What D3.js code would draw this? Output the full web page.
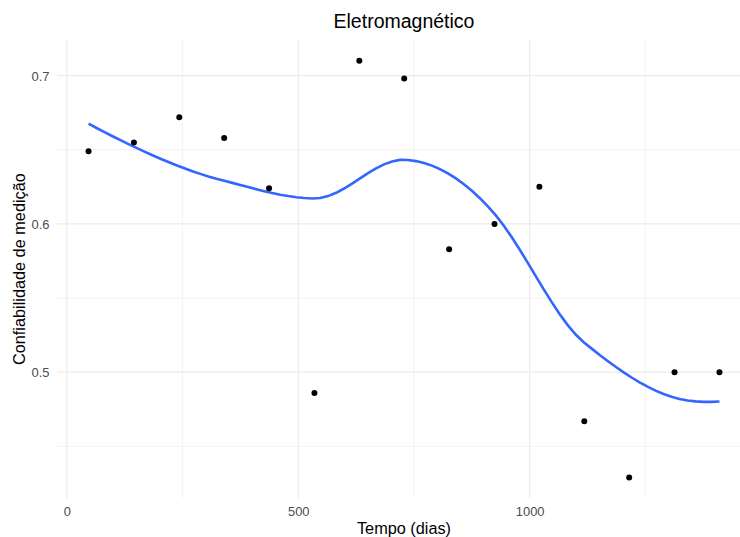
<!DOCTYPE html>
<html>
<head>
<meta charset="utf-8">
<script src="https://cdn.jsdelivr.net/npm/d3@7"></script>
<style>
  body { margin: 0; background: #fff; }
  text { font-family: "Liberation Sans", Arial, sans-serif; }
</style>
</head>
<body>
<div id="chart"></div>
<script>
const tempo = [47, 145, 243, 340, 437, 535, 632, 729, 826, 924, 1021, 1118, 1215, 1313, 1410];
const confiab = [0.649, 0.655, 0.672, 0.658, 0.624, 0.486, 0.710, 0.698, 0.583, 0.600, 0.625, 0.467, 0.429, 0.500, 0.500];
const xTicks = [0, 500, 1000];
const xMinor = [250, 750, 1250];
const yTicks = [0.5, 0.6, 0.7];
const yMinor = [0.45, 0.55, 0.65];

// local quadratic fit at x0, tricube weights; returns [value, slope]
function localFit(xs, ys, span, x0) {
    const n = xs.length, q = Math.floor(n * span);
    const d = xs.map(x => Math.abs(x - x0));
    const h = d.slice().sort((a, b) => a - b)[q - 1];
    let S = [[0,0,0],[0,0,0],[0,0,0]], b = [0,0,0];
    for (let i = 0; i < n; i++) {
        const u = d[i] / h;
        if (u >= 1) continue;
        const w = Math.pow(1 - u * u * u, 3);
        const t = (xs[i] - x0) / h, p = [1, t, t * t];
        for (let r = 0; r < 3; r++) {
            b[r] += w * p[r] * ys[i];
            for (let c = 0; c < 3; c++) S[r][c] += w * p[r] * p[c];
        }
    }
    for (let k = 0; k < 3; k++) {
        for (let r = k + 1; r < 3; r++) {
            const f = S[r][k] / S[k][k];
            for (let c = k; c < 3; c++) S[r][c] -= f * S[k][c];
            b[r] -= f * b[k];
        }
    }
    const beta = [0, 0, 0];
    for (let k = 2; k >= 0; k--) {
        let s = b[k];
        for (let c = k + 1; c < 3; c++) s -= S[k][c] * beta[c];
        beta[k] = s / S[k][k];
    }
    return [beta[0], beta[1] / h];
}

// loess with kd-tree vertices + cubic hermite interpolation (as R does)
function loessCurve(xs, ys, span, nOut) {
    const n = xs.length, fc = Math.floor(n * span * 0.2);
    const lo = d3.min(xs), hi = d3.max(xs), mu = 0.005 * (hi - lo);
    const verts = [lo - mu, hi + mu];
    (function split(l, u) {
        if (u - l + 1 <= fc) return;
        const m = Math.floor((l + u) / 2);
        verts.push(xs[m - 1]);
        split(l, m);
        split(m + 1, u);
    })(1, n);
    verts.sort((a, b) => a - b);
    const vf = verts.map(v => localFit(xs, ys, span, v));
    const out = [];
    for (let i = 0; i < nOut; i++) {
        const xv = lo + (hi - lo) * i / (nOut - 1);
        let j = d3.bisectRight(verts, xv) - 1;
        j = Math.max(0, Math.min(verts.length - 2, j));
        const a = verts[j], bb = verts[j + 1], L = bb - a, t = (xv - a) / L;
        const h00 = 2*t*t*t - 3*t*t + 1, h10 = t*t*t - 2*t*t + t,
              h01 = -2*t*t*t + 3*t*t, h11 = t*t*t - t*t;
        out.push({x: xv, y: h00 * vf[j][0] + h10 * L * vf[j][1] + h01 * vf[j + 1][0] + h11 * L * vf[j + 1][1]});
    }
    return out;
}

const W = 740, H = 537;
const margin = {top: 40, right: -11, bottom: 38.7, left: 57};
const width = W - margin.left - margin.right,
      height = H - margin.top - margin.bottom;

const xExt = d3.extent(tempo), yExt = d3.extent(confiab);
const xPad = (xExt[1] - xExt[0]) * 0.05, yPad = (yExt[1] - yExt[0]) * 0.05;

const x = d3.scaleLinear().domain([xExt[0] - xPad, xExt[1] + xPad]).range([0, width]);
const y = d3.scaleLinear().domain([yExt[0] - yPad, yExt[1] + yPad]).range([height, 0]);

const svg = d3.select("#chart").append("svg")
    .attr("width", W)
    .attr("height", H);

const g = svg.append("g")
    .attr("transform", "translate(" + margin.left + "," + margin.top + ")");

// grid
g.selectAll(".xminor").data(xMinor).enter().append("line")
    .attr("x1", d => x(d)).attr("x2", d => x(d))
    .attr("y1", 0).attr("y2", height)
    .attr("stroke", "#ebebeb").attr("stroke-width", 0.6);
g.selectAll(".yminor").data(yMinor).enter().append("line")
    .attr("y1", d => y(d)).attr("y2", d => y(d))
    .attr("x1", 0).attr("x2", width)
    .attr("stroke", "#ebebeb").attr("stroke-width", 0.6);
g.selectAll(".xmajor").data(xTicks).enter().append("line")
    .attr("x1", d => x(d)).attr("x2", d => x(d))
    .attr("y1", 0).attr("y2", height)
    .attr("stroke", "#ebebeb").attr("stroke-width", 1.2);
g.selectAll(".ymajor").data(yTicks).enter().append("line")
    .attr("y1", d => y(d)).attr("y2", d => y(d))
    .attr("x1", 0).attr("x2", width)
    .attr("stroke", "#ebebeb").attr("stroke-width", 1.2);

// axes: labels only
const xAxis = g.append("g")
    .attr("transform", "translate(0," + height + ")")
    .call(d3.axisBottom(x).tickValues(xTicks).tickSize(0).tickPadding(0).tickFormat(d3.format("d")));
xAxis.select(".domain").remove();
xAxis.selectAll("text")
    .attr("y", 17.5).attr("dy", null)
    .attr("fill", "#4d4d4d").attr("font-size", "12.9px");

const yAxis = g.append("g")
    .call(d3.axisLeft(y).tickValues(yTicks).tickSize(0).tickPadding(0).tickFormat(d3.format(".1f")));
yAxis.select(".domain").remove();
yAxis.selectAll("text")
    .attr("x", -7.5).attr("dy", "0.36em")
    .attr("fill", "#4d4d4d").attr("font-size", "12.9px");
svg.selectAll(".tick text").attr("font-family", "Liberation Sans, Arial, sans-serif");

// smooth
const fit = loessCurve(tempo, confiab, 0.75, 80);
g.append("path")
    .datum(fit)
    .attr("fill", "none")
    .attr("stroke", "#3366ff")
    .attr("stroke-width", 2.6)
    .attr("d", d3.line().x(d => x(d.x)).y(d => y(d.y)));

// points
g.selectAll(".pt").data(tempo).enter().append("circle")
    .attr("cx", d => x(d))
    .attr("cy", (d, i) => y(confiab[i]))
    .attr("r", 3)
    .attr("fill", "#000");

// titles
svg.append("text")
    .attr("x", margin.left + width / 2).attr("y", 28)
    .attr("text-anchor", "middle").attr("font-size", "19.5px")
    .text("Eletromagnético");
svg.append("text")
    .attr("x", margin.left + width / 2).attr("y", 533.5)
    .attr("text-anchor", "middle").attr("font-size", "16.3px")
    .text("Tempo (dias)");
svg.append("text")
    .attr("transform", "translate(25," + (margin.top + height / 2) + ") rotate(-90)")
    .attr("text-anchor", "middle").attr("font-size", "16.3px")
    .text("Confiabilidade de medição");
</script>
</body>
</html>
